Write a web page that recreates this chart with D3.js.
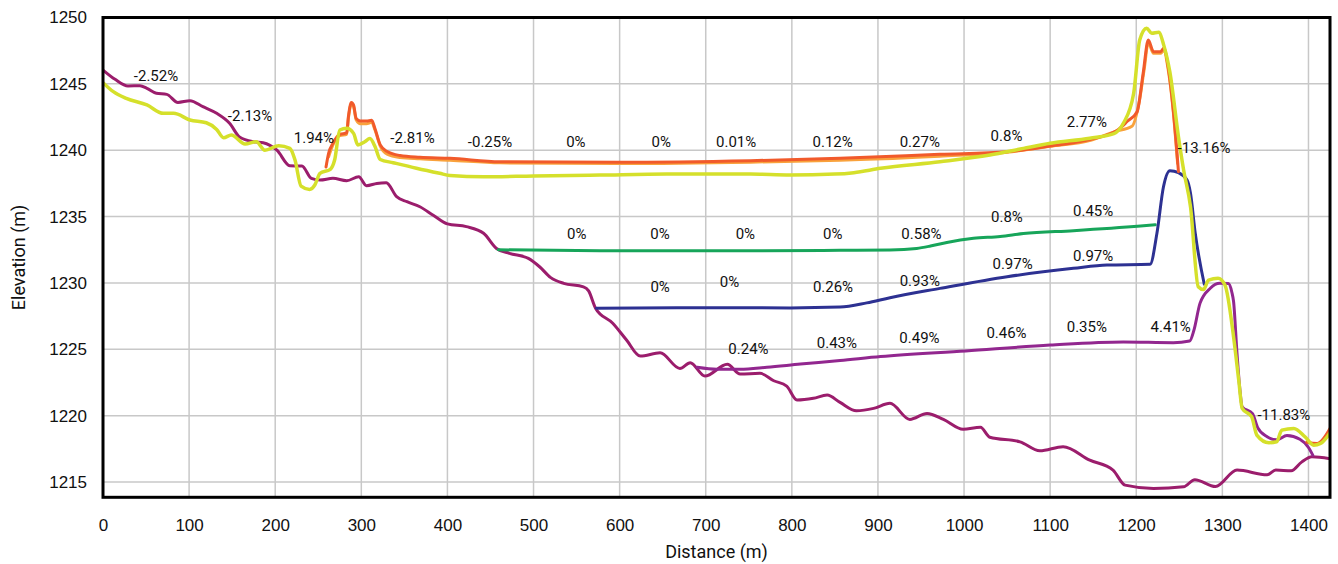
<!DOCTYPE html>
<html>
<head>
<meta charset="utf-8">
<script src="https://cdn.jsdelivr.net/npm/d3@7"></script>
<style>
  body { margin: 0; background: #fff; }
  svg { display: block; font-family: Roboto, "DejaVu Sans", sans-serif; }
  .grid line { stroke: #c8c8c8; stroke-width: 1.5; }
  .axis text { fill: #111; }
  .pct { font-size: 15px; fill: #111; text-anchor: middle; }
</style>
</head>
<body>
<svg id="chart" width="1338" height="564"></svg>
<script>
// ticks
var xTicks = d3.range(0, 1401, 100);
var yTicks = [1215, 1220, 1225, 1230, 1235, 1240, 1245, 1250];

// profiles: [distance (m), elevation (m)]
var ground = [[0,1246.04],[14,1245.34],[29,1244.84],[43,1244.86],[51,1244.66],[62,1244.29],[74,1244.21],[87,1243.6],[101,1243.73],[116,1243.28],[132,1242.78],[147,1242.03],[159,1240.97],[175,1240.64],[186,1240.57],[202,1240.0],[217,1238.83],[231,1238.81],[242,1237.88],[252,1237.75],[267,1237.88],[283,1237.7],[297,1238.0],[306,1237.33],[318,1237.5],[329,1237.55],[341,1236.5],[353,1236.12],[368,1235.74],[384,1235.08],[400,1234.45],[422,1234.24],[442,1233.74],[457,1232.6],[472,1232.23],[494,1231.85],[507,1231.22],[520,1230.4],[535,1229.97],[558,1229.71],[564,1229.4],[572,1228.1],[592,1226.96],[608,1225.7],[624,1224.49],[647,1224.74],[670,1223.56],[682,1223.99],[699,1222.98],[725,1223.87],[740,1223.14],[763,1223.19],[779,1222.63],[794,1222.23],[806,1221.18],[825,1221.31],[841,1221.55],[856,1221.0],[875,1220.37],[895,1220.55],[914,1220.93],[937,1219.72],[957,1220.17],[976,1219.72],[999,1218.97],[1019,1219.12],[1030,1218.37],[1065,1218.03],[1088,1217.35],[1115,1217.66],[1146,1216.65],[1173,1215.9],[1187,1214.77],[1220,1214.52],[1255,1214.64],[1268,1215.18],[1292,1214.66],[1317,1215.9],[1352,1215.55],[1362,1215.9],[1380,1215.85],[1392,1216.5],[1404,1216.9],[1425,1216.75]];

var yellowLine = [[0,1245.09],[12,1244.41],[27,1243.91],[51,1243.41],[70,1242.78],[82,1242.78],[101,1242.28],[120,1242.07],[132,1241.57],[140,1240.94],[149,1241.15],[165,1240.47],[178,1240.64],[188,1240.0],[204,1240.34],[217,1240.14],[223,1239.26],[230,1237.3],[240,1237.05],[246,1237.38],[252,1238.26],[264,1238.56],[269,1239.26],[275,1241.52],[283,1241.65],[291,1241.27],[296,1240.4],[304,1240.64],[310,1240.88],[316,1240.26],[322,1239.3],[337,1239.06],[364,1238.64],[391,1238.26],[403,1238.1],[442,1238.0],[500,1238.06],[577,1238.13],[655,1238.2],[752,1238.2],[798,1238.13],[850,1238.2],[872,1238.31],[903,1238.64],[972,1239.13],[1030,1239.64],[1069,1240.14],[1100,1240.52],[1146,1240.9],[1174,1241.25],[1185,1242.03],[1197,1244.29],[1204,1248.3],[1212,1249.19],[1218,1248.81],[1226,1248.88],[1232,1247.9],[1239,1245.9],[1249,1241.02],[1255,1238.51],[1263,1235.74],[1272,1229.71],[1278,1229.5],[1284,1230.22],[1295,1230.35],[1303,1229.84],[1313,1225.95],[1319,1222.68],[1323,1220.55],[1334,1219.92],[1340,1218.54],[1354,1217.96],[1363,1218.03],[1369,1218.91],[1383,1219.04],[1396,1218.41],[1406,1217.78],[1414,1217.91],[1425,1218.7]];

var redLine = [[259,1238.74],[262,1239.77],[267,1240.52],[275,1241.2],[283,1241.3],[285,1242.52],[288.5,1243.6],[291,1243.4],[294,1242.4],[299,1242.2],[306,1242.2],[312,1242.25],[316,1241.6],[322,1240.4],[330,1239.9],[345,1239.6],[368,1239.47],[403,1239.39],[461,1239.13],[597,1239.09],[752,1239.21],[856,1239.39],[972,1239.69],[1050,1239.89],[1100,1240.32],[1147,1240.82],[1178,1241.5],[1190,1242.2],[1201,1242.9],[1208,1245.8],[1214,1248.3],[1220,1247.42],[1228,1247.42],[1232,1247.68],[1237,1246.29],[1243,1243.03],[1249,1238.38],
  null,[1398,1218.0],[1410,1217.91],[1425,1219.04]];

var orangeLine = [[262,1239.5],[267,1240.4],[275,1241.1],[283,1241.2],[285,1242.4],[288.5,1243.5],[291,1243.3],[294,1242.3],[299,1242.0],[306,1242.0],[312,1242.1],[316,1241.5],[322,1240.3],[330,1239.7],[345,1239.45],[368,1239.35],[403,1239.25],[461,1239.05],[597,1239.0],[752,1239.1],[856,1239.25],[972,1239.55],[1050,1239.85],[1100,1240.3],[1147,1240.75],[1175,1241.4],[1195,1241.8],[1203,1243.5],[1209,1246],[1214,1248.1],[1220,1247.3],[1228,1247.3],[1232,1247.5],[1237,1246.1],[1243,1242.9],[1248,1239]];

var greenLine = [[459,1232.5],[577,1232.43],[752,1232.43],[856,1232.46],[914,1232.48],[945,1232.6],[961,1232.78],[980,1233.05],[1011,1233.36],[1042,1233.5],[1069,1233.72],[1127,1233.94],[1205,1234.29],[1222,1234.38]];

var blueLine = [[573,1228.1],[713,1228.13],[798,1228.12],[856,1228.18],[887,1228.5],[914,1228.89],[972,1229.59],[1050,1230.47],[1127,1231.1],[1166,1231.35],[1216,1231.4],[1224,1233.74],[1231.6,1237.25],[1239,1238.46],[1249,1238.31],[1259,1237.75],[1263,1236.75],[1268.5,1233.74],[1279,1229.9]];

var purpleLine = [[690,1223.65],[713,1223.5],[740,1223.5],[771,1223.65],[810,1223.89],[856,1224.15],[903,1224.45],[1002,1224.88],[1100,1225.32],[1185,1225.55],[1243,1225.5],[1262,1225.62],[1267,1226.45],[1274,1228.46],[1286,1229.6],[1297,1229.97],[1307,1229.95],[1311,1229.3],[1313,1228.6],[1317,1224.7],[1320,1222.2],[1323,1220.67],[1335,1220.15],[1341,1219.1],[1352,1218.41],[1363,1218.18],[1375,1218.5],[1390,1218.22],[1400,1217.6],[1405,1217.03]];

// slope labels: [text, distance, elevation of baseline]
var slopeLabels = [
  ["-2.52%", 61.6, 1245.21], ["-2.13%", 170.8, 1242.22], ["1.94%", 244.9, 1240.57], ["-2.81%", 359.5, 1240.57],
  ["-0.25%", 449.5, 1240.22], ["0%", 549.2, 1240.22], ["0%", 648.4, 1240.22], ["0.01%", 735.3, 1240.22],
  ["0.12%", 847.4, 1240.22], ["0.27%", 948.6, 1240.22], ["0.8%", 1049.3, 1240.72], ["2.77%", 1142.6, 1241.77],
  ["-13.16%", 1278.7, 1239.77],
  ["0%", 550.2, 1233.31], ["0%", 646.9, 1233.31], ["0%", 746, 1233.31], ["0%", 847.6, 1233.31],
  ["0.58%", 950.5, 1233.31], ["0.8%", 1049.8, 1234.61], ["0.45%", 1149.9, 1235.04],
  ["0%", 647, 1229.29], ["0%", 727.5, 1229.71], ["0.26%", 847.8, 1229.29], ["0.93%", 948.6, 1229.77],
  ["0.97%", 1056.4, 1231.05], ["0.97%", 1149.9, 1231.65],
  ["0.24%", 749.6, 1224.64], ["0.43%", 852.3, 1225.07], ["0.49%", 948.2, 1225.45], ["0.46%", 1049.3, 1225.83],
  ["0.35%", 1142.6, 1226.28], ["4.41%", 1240, 1226.28], ["-11.83%", 1371.4, 1219.67]
];

var svg = d3.select("#chart");
var margin = {top: 17.5, right: 8, bottom: 66.7, left: 103},
    width = +svg.attr("width") - margin.left - margin.right,
    height = +svg.attr("height") - margin.top - margin.bottom,
    g = svg.append("g").attr("transform", "translate(" + margin.left + "," + margin.top + ")");

var x = d3.scaleLinear().domain([0, 1425]).range([0, width]);
var y = d3.scaleLinear().domain([1213.85, 1250]).range([height, 0]);

// grid
g.append("g").attr("class", "grid")
  .selectAll("line.v").data(xTicks.slice(1)).enter().append("line")
    .attr("x1", d => x(d)).attr("x2", d => x(d)).attr("y1", 0).attr("y2", height);
g.select(".grid")
  .selectAll("line.h").data(yTicks).enter().append("line")
    .attr("x1", 0).attr("x2", width).attr("y1", d => y(d)).attr("y2", d => y(d));

// axes
var xAxis = g.append("g")
    .attr("class", "axis")
    .attr("transform", "translate(0," + height + ")")
    .call(d3.axisBottom(x).tickValues(xTicks).tickSize(0).tickPadding(22).tickFormat(d3.format("d")));
xAxis.select(".domain").remove();
xAxis.selectAll("text").style("font-size", "17px");

var yAxis = g.append("g")
    .attr("class", "axis")
    .call(d3.axisLeft(y).tickValues(yTicks).tickSize(0).tickPadding(16).tickFormat(d3.format("d")));
yAxis.select(".domain").remove();
yAxis.selectAll("text").style("font-size", "17px");

var line = d3.line()
    .defined(d => d !== null)
    .x(d => x(d[0]))
    .y(d => y(d[1]))
    .curve(d3.curveMonotoneX);

var g2 = g.append("g").attr("clip-path", "url(#clip)");
svg.append("clipPath").attr("id", "clip")
  .append("rect").attr("width", width).attr("height", height);

var series = [
  {data: ground, color: "#9b1d6c", w: 3},
  {data: purpleLine, color: "#92278f", w: 3},
  {data: greenLine, color: "#17a55a", w: 3},
  {data: blueLine, color: "#2d3192", w: 3},
  {data: orangeLine, color: "#f9a23c", w: 3},
  {data: redLine, color: "#f15a2b", w: 3},
  {data: yellowLine, color: "#d5e02b", w: 3.5}
];

g2.selectAll("path.profile")
  .data(series)
  .enter().append("path")
    .attr("class", "profile")
    .attr("fill", "none")
    .attr("stroke", d => d.color)
    .attr("stroke-width", d => d.w)
    .attr("stroke-linejoin", "round")
    .attr("stroke-linecap", "round")
    .attr("d", d => line(d.data));

g.selectAll("text.pct")
  .data(slopeLabels)
  .enter().append("text")
    .attr("class", "pct")
    .attr("x", d => x(d[1]))
    .attr("y", d => y(d[2]))
    .text(d => d[0]);

// frame
g.append("rect")
    .attr("width", width).attr("height", height)
    .attr("fill", "none").attr("stroke", "#000").attr("stroke-width", 3);

// titles
svg.append("text")
    .attr("x", margin.left + width / 2).attr("y", 558)
    .attr("text-anchor", "middle").style("font-size", "18px").attr("fill", "#111")
    .text("Distance (m)");

svg.append("text")
    .attr("transform", "translate(25," + (margin.top + height / 2) + ") rotate(-90)")
    .attr("text-anchor", "middle").style("font-size", "18px").attr("fill", "#111")
    .text("Elevation (m)");
</script>
</body>
</html>
